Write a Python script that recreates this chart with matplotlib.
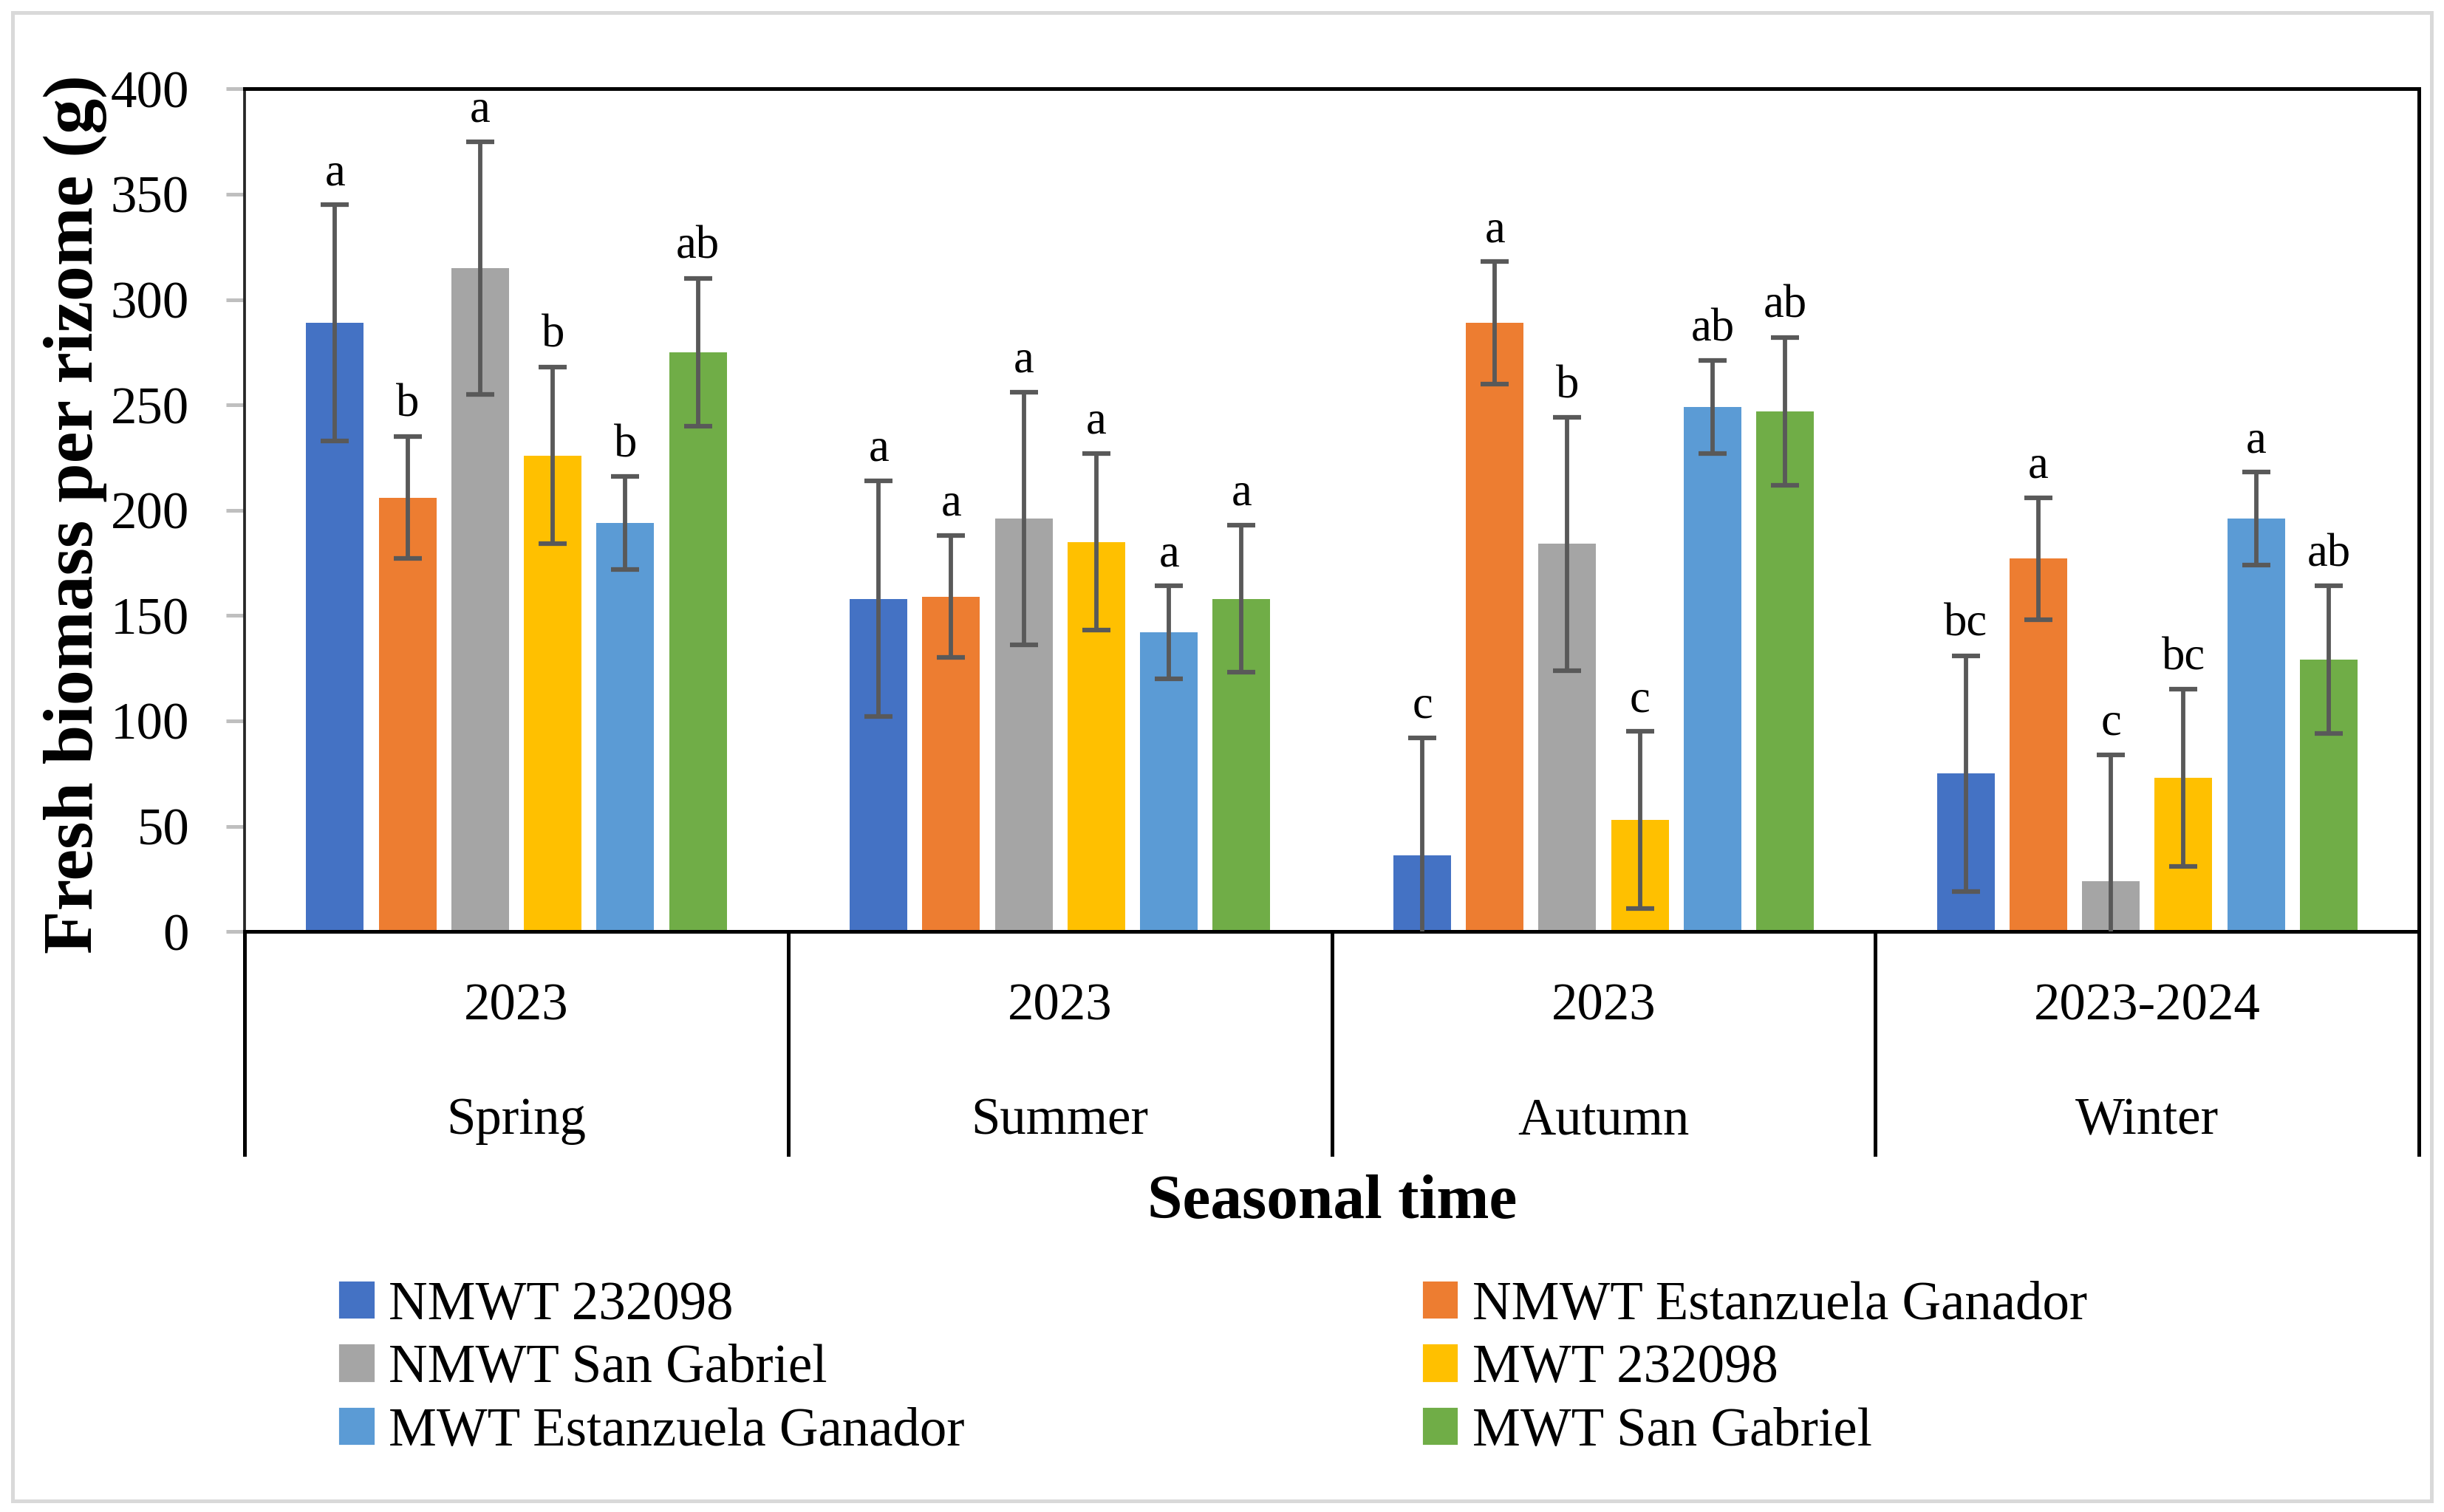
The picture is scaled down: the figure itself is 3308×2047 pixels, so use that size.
import matplotlib.pyplot as plt
import numpy as np
from matplotlib.patches import Patch, Rectangle

# Data
years = ['2023', '2023', '2023', '2023-2024']
seasons = ['Spring', 'Summer', 'Autumn', 'Winter']
series = ['NMWT 232098', 'NMWT Estanzuela Ganador', 'NMWT San Gabriel',
          'MWT 232098', 'MWT Estanzuela Ganador', 'MWT San Gabriel']
colors = ['#4472C4', '#ED7D31', '#A5A5A5', '#FFC000', '#5B9BD5', '#70AD47']

nmwt_232098 = [289, 158, 36, 75]
nmwt_estanzuela = [206, 159, 289, 177]
nmwt_san_gabriel = [315, 196, 184, 24]
mwt_232098 = [226, 185, 53, 73]
mwt_estanzuela = [194, 142, 249, 196]
mwt_san_gabriel = [275, 158, 247, 129]
values = [nmwt_232098, nmwt_estanzuela, nmwt_san_gabriel,
          mwt_232098, mwt_estanzuela, mwt_san_gabriel]

# error bar half-widths (same per series in every season)
errors = [56, 29, 60, 42, 22, 35]

letters = [['a', 'a', 'c', 'bc'],
           ['b', 'a', 'a', 'a'],
           ['a', 'a', 'b', 'c'],
           ['b', 'a', 'c', 'bc'],
           ['b', 'a', 'ab', 'a'],
           ['ab', 'a', 'ab', 'ab']]

plt.rcParams['font.family'] = ['Liberation Serif', 'DejaVu Serif']

fig = plt.figure(figsize=(3308 / 300, 2047 / 300), dpi=300)
ax = fig.add_axes([0.1001, 0.3839, 0.8897, 0.5573])

x = np.arange(len(seasons))
step = 0.1335
width = 0.106
for j in range(len(series)):
    xs = x + (j - 2.5) * step
    ax.bar(xs, values[j], width, color=colors[j], zorder=2)
    ax.errorbar(xs, values[j], yerr=errors[j], fmt='none', ecolor='#595959',
                elinewidth=1.4, capsize=4.5, capthick=1.5, zorder=3)
    for i in range(len(seasons)):
        ax.annotate(letters[j][i], (xs[i], values[j][i] + errors[j]),
                    xytext=(0, 6.5), textcoords='offset points',
                    ha='center', va='baseline', fontsize=15)

ax.set_xlim(-0.5, 3.5)
ax.set_ylim(0, 400)
ax.set_yticks(np.arange(0, 401, 50))
ax.set_xticks([])
ax.tick_params(axis='y', direction='out', length=6, width=1.2, color='#bfbfbf',
               pad=12, labelsize=17)

for s in ['top', 'right', 'bottom']:
    ax.spines[s].set_color('black')
    ax.spines[s].set_linewidth(1.2)
ax.spines['left'].set_color('#262626')
ax.spines['left'].set_linewidth(0.9)

# category separators below the axis
trans = ax.get_xaxis_transform()
for b in np.arange(-0.5, 3.6, 1.0):
    ax.plot([b, b], [0, -0.265], color='black', lw=1.2, transform=trans,
            clip_on=False)

for i in range(len(seasons)):
    ax.text(x[i], -0.089, years[i], transform=trans, ha='center', va='center',
            fontsize=17)
    ax.text(x[i], -0.225, seasons[i], transform=trans, ha='center', va='center',
            fontsize=17)

ax.text(1.5, -0.322, 'Seasonal time', transform=trans, ha='center',
        va='center', fontsize=20.5, fontweight='bold')
fig.text(48 / 1568, 0.66, 'Fresh biomass per rizome (g)', rotation=90,
         ha='center', va='center', fontsize=23, fontweight='bold')

# legend: two columns, filled row by row
handles = [Patch(color=c) for c in colors]
for col, x0 in enumerate([0.1393, 0.5827]):
    idx = [col, col + 2, col + 4]
    fig.legend([handles[k] for k in idx], [series[k] for k in idx],
               loc='upper left', bbox_to_anchor=(x0, 0.1527),
               frameon=False, fontsize=17.5, handlelength=0.6,
               handleheight=0.6, handletextpad=0.3, labelspacing=0.245,
               borderpad=0, borderaxespad=0)

# light grey outer frame
fig.patches.append(Rectangle((8 / 1568, 1 - 962 / 969), 1552 / 1568, 954 / 969,
                             transform=fig.transFigure, fill=False,
                             ec='#d9d9d9', lw=1.2))

plt.savefig('out.png', dpi=300)
